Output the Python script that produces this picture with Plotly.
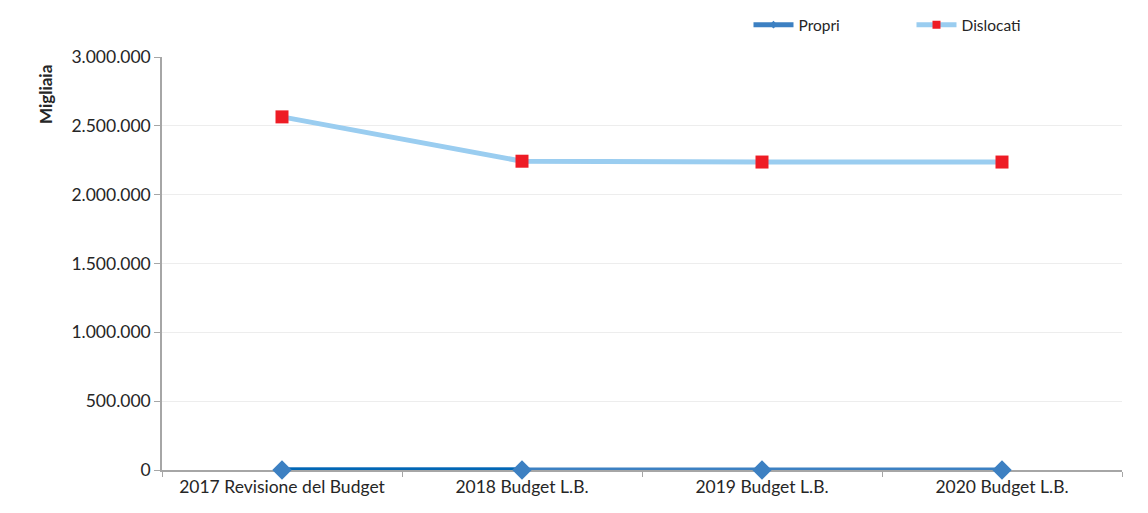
import plotly.graph_objects as go

categories = ["2017 Revisione del Budget", "2018 Budget L.B.", "2019 Budget L.B.", "2020 Budget L.B."]
propri = [0, 0, 0, 0]
dislocati = [2565000, 2243000, 2237000, 2237000]
ytickvals = [0, 500000, 1000000, 1500000, 2000000, 2500000, 3000000]
yticktext = ["0", "500.000", "1.000.000", "1.500.000", "2.000.000", "2.500.000", "3.000.000"]

FONT = "Lato, Liberation Sans, sans-serif"
PROPRI_C = "#3C80C2"
DISL_LINE = "#9ACDF0"
DISL_MARK = "#EE1C25"

fig = go.Figure()
fig.add_trace(go.Scatter(x=categories, y=propri, name="Propri", mode="lines", showlegend=False,
                         cliponaxis=False, line=dict(color=PROPRI_C, width=5)))
fig.add_trace(go.Scatter(x=categories[:2], y=propri[:2], mode="lines", showlegend=False,
                         cliponaxis=False, line=dict(color="#0067B5", width=5), hoverinfo="skip"))
fig.add_trace(go.Scatter(x=categories, y=propri, name="Propri", mode="markers", showlegend=False,
                         cliponaxis=False, marker=dict(symbol="diamond", size=15, color=PROPRI_C)))
fig.add_trace(go.Scatter(x=categories, y=dislocati, name="Dislocati", mode="lines+markers",
                         showlegend=False, cliponaxis=False,
                         line=dict(color=DISL_LINE, width=5),
                         marker=dict(symbol="square", size=13, color=DISL_MARK)))
# legend-only entries (small legend symbols as in the reference)
fig.add_trace(go.Scatter(x=[categories[0]], y=[None], name="Propri", mode="lines+markers",
                         line=dict(color=PROPRI_C, width=5),
                         marker=dict(symbol="diamond", size=6, color=PROPRI_C)))
fig.add_trace(go.Scatter(x=[categories[0]], y=[None], name="Dislocati", mode="lines+markers",
                         line=dict(color=DISL_LINE, width=5),
                         marker=dict(symbol="square", size=8, color=DISL_MARK)))

fig.update_layout(
    width=1148, height=513,
    margin=dict(l=162, r=26, t=57, b=43, autoexpand=False),
    paper_bgcolor="white", plot_bgcolor="white",
    font=dict(family=FONT, size=17, color="#262626"),
    legend=dict(orientation="h", xref="container", yref="container",
                x=0.652, xanchor="left", y=0.951, yanchor="middle",
                font=dict(size=15.5), itemwidth=40, entrywidth=108, entrywidthmode="pixels",
                bgcolor="rgba(0,0,0,0)"),
    xaxis=dict(type="category", range=[-0.5, 3.5], showline=True, linecolor="#A6A6A6", linewidth=1.5,
               ticks="outside", tickson="boundaries", ticklen=5, tickcolor="#A6A6A6",
               showgrid=False, tickfont=dict(size=17.5), automargin=False, layer="below traces"),
    yaxis=dict(range=[0, 3000000], tickvals=ytickvals, ticktext=yticktext,
               showline=True, linecolor="#A6A6A6", linewidth=1.5,
               ticks="outside", ticklen=6, tickcolor="#A6A6A6",
               showgrid=True, gridcolor="#EDEDED", gridwidth=1, zeroline=False,
               tickfont=dict(size=17.5), automargin=False, layer="below traces"),
    annotations=[dict(text="<b>Migliaia</b>", textangle=-90, xref="paper", yref="paper",
                      x=-0.122, y=0.91, showarrow=False, font=dict(size=17, color="#262626"),
                      xanchor="center", yanchor="middle")],
)

fig.write_html("out.html", config={"displayModeBar": False},
               post_script="document.body.style.margin='0';")
